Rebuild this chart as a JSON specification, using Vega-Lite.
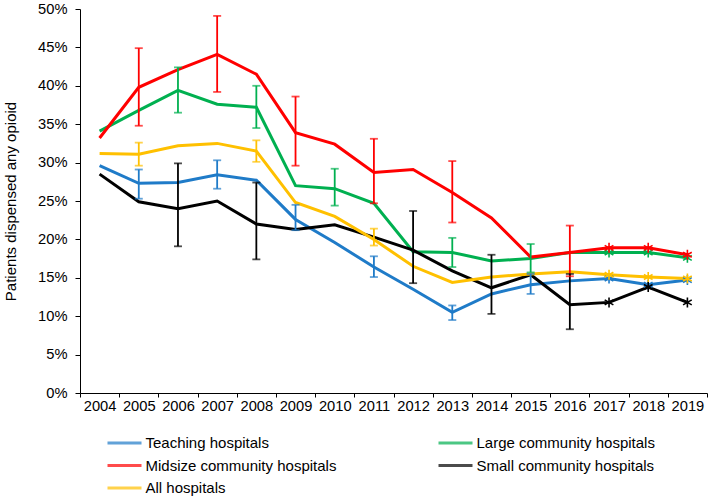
{
  "$schema": "https://vega.github.io/schema/vega-lite/v6.json",
  "autosize": "none",
  "width": 627,
  "height": 384,
  "padding": {"left": 80, "top": 9, "right": 2, "bottom": 106},
  "config": {
    "font": "Liberation Sans",
    "view": {"stroke": null},
    "axis": {"labelColor": "#000", "titleColor": "#000", "domainColor": "#000", "tickColor": "#000", "grid": false, "labelFontSize": 14.7, "titleFontSize": 15, "titleFontWeight": "normal"},
    "legend": {"labelColor": "#000", "labelFontSize": 15, "labelLimit": 400}
  },
  "data": {"values": [
    {"year": 2004, "series": "Teaching hospitals", "value": 29.6},
    {"year": 2005, "series": "Teaching hospitals", "value": 27.3, "lo": 25.3, "hi": 29.1},
    {"year": 2006, "series": "Teaching hospitals", "value": 27.4},
    {"year": 2007, "series": "Teaching hospitals", "value": 28.4, "lo": 26.6, "hi": 30.3},
    {"year": 2008, "series": "Teaching hospitals", "value": 27.7},
    {"year": 2009, "series": "Teaching hospitals", "value": 22.6, "lo": 21.2, "hi": 24.5},
    {"year": 2010, "series": "Teaching hospitals", "value": 19.6},
    {"year": 2011, "series": "Teaching hospitals", "value": 16.4, "lo": 15.1, "hi": 17.8},
    {"year": 2012, "series": "Teaching hospitals", "value": 13.5},
    {"year": 2013, "series": "Teaching hospitals", "value": 10.5, "lo": 9.5, "hi": 11.4},
    {"year": 2014, "series": "Teaching hospitals", "value": 12.9},
    {"year": 2015, "series": "Teaching hospitals", "value": 14.1, "lo": 12.9, "hi": 15.5},
    {"year": 2016, "series": "Teaching hospitals", "value": 14.6},
    {"year": 2017, "series": "Teaching hospitals", "value": 14.9},
    {"year": 2018, "series": "Teaching hospitals", "value": 14.1},
    {"year": 2019, "series": "Teaching hospitals", "value": 14.7},

    {"year": 2004, "series": "Large community hospitals", "value": 34.1},
    {"year": 2005, "series": "Large community hospitals", "value": 36.8},
    {"year": 2006, "series": "Large community hospitals", "value": 39.4, "lo": 36.5, "hi": 42.4},
    {"year": 2007, "series": "Large community hospitals", "value": 37.6},
    {"year": 2008, "series": "Large community hospitals", "value": 37.2, "lo": 34.5, "hi": 40.0},
    {"year": 2009, "series": "Large community hospitals", "value": 27.0},
    {"year": 2010, "series": "Large community hospitals", "value": 26.6, "lo": 24.4, "hi": 29.2},
    {"year": 2011, "series": "Large community hospitals", "value": 24.7},
    {"year": 2012, "series": "Large community hospitals", "value": 18.4},
    {"year": 2013, "series": "Large community hospitals", "value": 18.3, "lo": 16.4, "hi": 20.2},
    {"year": 2014, "series": "Large community hospitals", "value": 17.2},
    {"year": 2015, "series": "Large community hospitals", "value": 17.5, "lo": 15.7, "hi": 19.4},
    {"year": 2016, "series": "Large community hospitals", "value": 18.3},
    {"year": 2017, "series": "Large community hospitals", "value": 18.3},
    {"year": 2018, "series": "Large community hospitals", "value": 18.3},
    {"year": 2019, "series": "Large community hospitals", "value": 17.6},

    {"year": 2004, "series": "Midsize community hospitals", "value": 33.2},
    {"year": 2005, "series": "Midsize community hospitals", "value": 39.8, "lo": 34.8, "hi": 44.9},
    {"year": 2006, "series": "Midsize community hospitals", "value": 42.1},
    {"year": 2007, "series": "Midsize community hospitals", "value": 44.1, "lo": 39.2, "hi": 49.1},
    {"year": 2008, "series": "Midsize community hospitals", "value": 41.5},
    {"year": 2009, "series": "Midsize community hospitals", "value": 33.9, "lo": 29.6, "hi": 38.6},
    {"year": 2010, "series": "Midsize community hospitals", "value": 32.4},
    {"year": 2011, "series": "Midsize community hospitals", "value": 28.7, "lo": 24.7, "hi": 33.1},
    {"year": 2012, "series": "Midsize community hospitals", "value": 29.1},
    {"year": 2013, "series": "Midsize community hospitals", "value": 26.1, "lo": 22.2, "hi": 30.2},
    {"year": 2014, "series": "Midsize community hospitals", "value": 22.8},
    {"year": 2015, "series": "Midsize community hospitals", "value": 17.7},
    {"year": 2016, "series": "Midsize community hospitals", "value": 18.3, "lo": 15.2, "hi": 21.8},
    {"year": 2017, "series": "Midsize community hospitals", "value": 18.9},
    {"year": 2018, "series": "Midsize community hospitals", "value": 18.9},
    {"year": 2019, "series": "Midsize community hospitals", "value": 18.0},

    {"year": 2004, "series": "Small community hospitals", "value": 28.5},
    {"year": 2005, "series": "Small community hospitals", "value": 24.9},
    {"year": 2006, "series": "Small community hospitals", "value": 24.0, "lo": 19.1, "hi": 29.9},
    {"year": 2007, "series": "Small community hospitals", "value": 25.0},
    {"year": 2008, "series": "Small community hospitals", "value": 22.0, "lo": 17.4, "hi": 27.4},
    {"year": 2009, "series": "Small community hospitals", "value": 21.3},
    {"year": 2010, "series": "Small community hospitals", "value": 21.9},
    {"year": 2011, "series": "Small community hospitals", "value": 20.3},
    {"year": 2012, "series": "Small community hospitals", "value": 18.6, "lo": 14.3, "hi": 23.7},
    {"year": 2013, "series": "Small community hospitals", "value": 15.9},
    {"year": 2014, "series": "Small community hospitals", "value": 13.7, "lo": 10.3, "hi": 18.0},
    {"year": 2015, "series": "Small community hospitals", "value": 15.4},
    {"year": 2016, "series": "Small community hospitals", "value": 11.5, "lo": 8.3, "hi": 15.5},
    {"year": 2017, "series": "Small community hospitals", "value": 11.8},
    {"year": 2018, "series": "Small community hospitals", "value": 13.8},
    {"year": 2019, "series": "Small community hospitals", "value": 11.8},

    {"year": 2004, "series": "All hospitals", "value": 31.2},
    {"year": 2005, "series": "All hospitals", "value": 31.1, "lo": 29.6, "hi": 32.6},
    {"year": 2006, "series": "All hospitals", "value": 32.2},
    {"year": 2007, "series": "All hospitals", "value": 32.5},
    {"year": 2008, "series": "All hospitals", "value": 31.5, "lo": 30.1, "hi": 32.9},
    {"year": 2009, "series": "All hospitals", "value": 24.8},
    {"year": 2010, "series": "All hospitals", "value": 23.0},
    {"year": 2011, "series": "All hospitals", "value": 20.0, "lo": 19.2, "hi": 21.4},
    {"year": 2012, "series": "All hospitals", "value": 16.5},
    {"year": 2013, "series": "All hospitals", "value": 14.4},
    {"year": 2014, "series": "All hospitals", "value": 15.1},
    {"year": 2015, "series": "All hospitals", "value": 15.5},
    {"year": 2016, "series": "All hospitals", "value": 15.8},
    {"year": 2017, "series": "All hospitals", "value": 15.4},
    {"year": 2018, "series": "All hospitals", "value": 15.1},
    {"year": 2019, "series": "All hospitals", "value": 14.9}
  ]},
  "encoding": {
    "x": {"field": "year", "type": "ordinal", "scale": {"type": "band", "paddingInner": 0, "paddingOuter": 0},
      "axis": {"title": null, "labelAngle": 0, "tickBand": "extent", "tickSize": 4, "labelPadding": 1, "domainWidth": 1}},
    "y": {"field": "value", "type": "quantitative", "scale": {"domain": [0, 50], "nice": false},
      "axis": {"title": "Patients dispensed any opioid", "values": [0, 5, 10, 15, 20, 25, 30, 35, 40, 45, 50], "labelExpr": "datum.value + '%'", "tickSize": 5, "labelPadding": 8, "titlePadding": 19}},
    "color": {"field": "series", "type": "nominal",
      "scale": {"domain": ["Teaching hospitals", "Midsize community hospitals", "All hospitals", "Large community hospitals", "Small community hospitals"],
        "range": ["#1f7bc8", "#ff0000", "#ffc000", "#00b050", "#000000"]}}
  },
  "layer": [
    {"mark": {"type": "line", "strokeWidth": 3},
      "encoding": {"color": {"field": "series", "type": "nominal",
        "legend": {"title": null, "orient": "none", "legendX": 26, "legendY": 424, "columns": 2, "symbolType": "M-2,0L2,0", "symbolSize": 289, "symbolStrokeWidth": 3, "symbolOpacity": 1, "symbolOffset": 8.5, "labelOffset": 11, "rowPadding": 4.5, "columnPadding": 95, "padding": 0}}}},
    {"transform": [{"filter": "isValid(datum.lo)"}],
      "mark": {"type": "rule", "strokeWidth": 1.8},
      "encoding": {"y": {"field": "lo", "type": "quantitative"}, "y2": {"field": "hi"}}},
    {"transform": [{"filter": "isValid(datum.lo)"}],
      "mark": {"type": "tick", "size": 8, "thickness": 1.8},
      "encoding": {"y": {"field": "lo", "type": "quantitative"}}},
    {"transform": [{"filter": "isValid(datum.hi)"}],
      "mark": {"type": "tick", "size": 8, "thickness": 1.8},
      "encoding": {"y": {"field": "hi", "type": "quantitative"}}},
    {"transform": [{"filter": "datum.year >= 2017"}],
      "mark": {"type": "point", "filled": false, "strokeWidth": 1.6, "size": 100, "opacity": 1,
        "shape": "M0,-1L0,1M-0.87,-0.5L0.87,0.5M-0.87,0.5L0.87,-0.5"}}
  ]
}
